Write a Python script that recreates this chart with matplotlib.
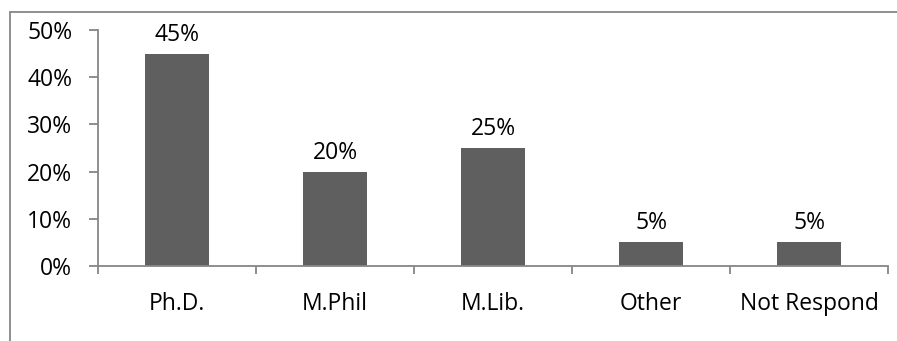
import matplotlib
matplotlib.use("Agg")
import matplotlib.pyplot as plt
from matplotlib.patches import Rectangle
from matplotlib.ticker import FuncFormatter, FixedLocator

categories = ["Ph.D.", "M.Phil", "M.Lib.", "Other", "Not Respond"]
shares = [45, 20, 25, 5, 5]
y_ticks = [0, 10, 20, 30, 40, 50]

plt.rcParams["font.family"] = ["Open Sans", "DejaVu Sans"]
FS = 16.5
AXIS_GRAY = "#868686"
BAR_COLOR = "#5f5f5f"

W, H = 897, 341
fig = plt.figure(figsize=(W / 100, H / 100), dpi=100)

# outer chart frame (runs off the right and bottom edges)
frame = Rectangle((10 / W, -0.1), 1.2, (H - 12) / H + 0.1,
                  transform=fig.transFigure, fill=False,
                  edgecolor=AXIS_GRAY, linewidth=1.3)
fig.add_artist(frame)

left, right = 98 / W, 888 / W
bottom, top = (H - 266) / H, (H - 30) / H
ax = fig.add_axes([left, bottom, right - left, top - bottom])

x = list(range(len(categories)))
bars = ax.bar(x, shares, width=0.4, color=BAR_COLOR, zorder=2)

ax.set_xlim(-0.5, len(categories) - 0.5)
ax.set_ylim(0, 50)

for spine in ["top", "right"]:
    ax.spines[spine].set_visible(False)
for spine in ["left", "bottom"]:
    ax.spines[spine].set_color(AXIS_GRAY)
    ax.spines[spine].set_linewidth(1.3)

ax.yaxis.set_major_locator(FixedLocator(y_ticks))
ax.yaxis.set_major_formatter(FuncFormatter(lambda v, p: f"{v:.0f}%"))
ax.tick_params(axis="y", length=6.5, width=1.3, color=AXIS_GRAY,
               labelsize=FS, pad=12, direction="out")

# category boundary ticks on the x axis, labels centred between them
ax.set_xticks([i - 0.5 for i in range(len(categories) + 1)])
ax.set_xticklabels([])
ax.set_xticks(x, minor=True)
ax.set_xticklabels(categories, minor=True, fontsize=FS)
ax.tick_params(axis="x", which="major", length=6, width=1.3,
               color=AXIS_GRAY, direction="out")
ax.tick_params(axis="x", which="minor", length=0, pad=19)

for b, v in zip(bars, shares):
    ax.annotate(f"{v}%", (b.get_x() + b.get_width() / 2, v),
                xytext=(0, 5), textcoords="offset points",
                ha="center", va="bottom", fontsize=FS)

fig.savefig("out.png", dpi=100)
